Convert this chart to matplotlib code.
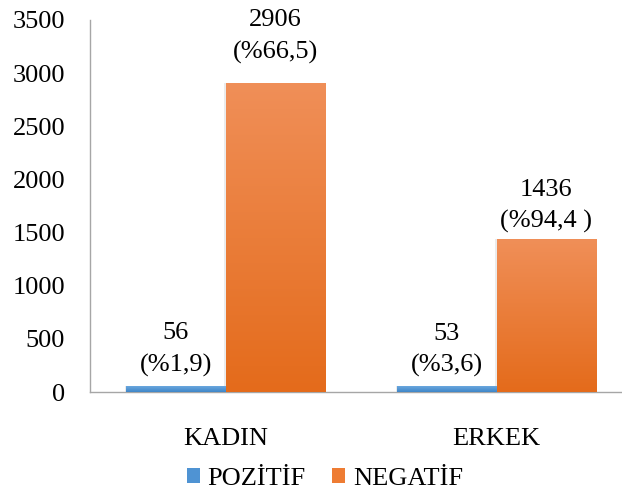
import numpy as np
import matplotlib
matplotlib.use("Agg")
import matplotlib.pyplot as plt
from matplotlib.patches import Patch
from matplotlib.colors import LinearSegmentedColormap

FONT = ['Liberation Serif', 'DejaVu Serif']
plt.rcParams['font.family'] = FONT

categories = ["KADIN", "ERKEK"]
series_names = ["POZİTİF", "NEGATİF"]
pozitif = [56, 53]
negatif = [2906, 1436]
pozitif_labels = ["56\n(%1,9)", "53\n(%3,6)"]
negatif_labels = ["2906\n(%66,5)", "1436\n(%94,4 )"]
yticks = [0, 500, 1000, 1500, 2000, 2500, 3000, 3500]

# gradient endpoints (top, bottom) for each series
blue_top, blue_bot = "#6AA7DE", "#3F86C8"
orange_top, orange_bot = "#F08F58", "#E46B1B"

FS = 19

fig = plt.figure(figsize=(6.22, 4.90), dpi=100)
W, H = 622, 490
left, right = 90, 632
bottom, top = 392, 20
ax = fig.add_axes([left / W, 1 - bottom / H, (right - left) / W, (bottom - top) / H])

x = np.arange(len(categories))
bw = 0.366


def gradient_bar(ax, xc, h, c_top, c_bot):
    cmap = LinearSegmentedColormap.from_list("g", [c_bot, c_top])
    grad = np.linspace(0, 1, 256).reshape(-1, 1)
    # faint shadow on the left edge
    ax.bar(xc - 0.006, h, width=bw, color="#000000", alpha=0.08, zorder=2)
    ax.imshow(grad, cmap=cmap, origin="lower", aspect="auto",
              extent=[xc - bw / 2, xc + bw / 2, 0, h], zorder=3)


# label gaps above each bar, in pixels
poz_gap = [9, 9]
neg_gap = [19, 6]

for i in range(len(categories)):
    gradient_bar(ax, x[i] - bw / 2, pozitif[i], blue_top, blue_bot)
    gradient_bar(ax, x[i] + bw / 2, negatif[i], orange_top, orange_bot)
    ax.annotate(pozitif_labels[i], (x[i] - bw / 2, pozitif[i]), xytext=(0, poz_gap[i] * 0.72),
                textcoords="offset points", ha="center", va="bottom",
                fontsize=FS, linespacing=1.55, family=FONT)
    ax.annotate(negatif_labels[i], (x[i] + bw / 2, negatif[i]), xytext=(0, neg_gap[i] * 0.72),
                textcoords="offset points", ha="center", va="bottom",
                fontsize=FS, linespacing=1.55, family=FONT)

ax.set_xlim(-0.5, 1.5)
ax.set_ylim(0, 3500)
ax.set_yticks(yticks)
ax.set_xticks(x)
ax.set_xticklabels(categories, family=FONT)
ax.set_yticklabels([str(v) for v in yticks], family=FONT)
ax.tick_params(axis="both", length=0, labelsize=FS)
ax.tick_params(axis="y", pad=18)
ax.tick_params(axis="x", pad=26)

for s in ["top", "right"]:
    ax.spines[s].set_visible(False)
ax.spines["left"].set_color("#A6A6A6")
ax.spines["bottom"].set_color("#A6A6A6")
ax.spines["left"].set_linewidth(1.0)
ax.spines["bottom"].set_linewidth(1.0)

handles = [Patch(facecolor="#4F93D3", edgecolor="none"),
           Patch(facecolor="#EE7C33", edgecolor="none")]
fig.legend(handles, series_names, loc="center", bbox_to_anchor=(325 / W, 1 - 479 / H),
           ncol=2, frameon=False, prop={"family": FONT, "size": FS},
           handlelength=0.5, handleheight=0.5, handletextpad=0.3, columnspacing=1.0)

fig.savefig("out.png", dpi=100)
